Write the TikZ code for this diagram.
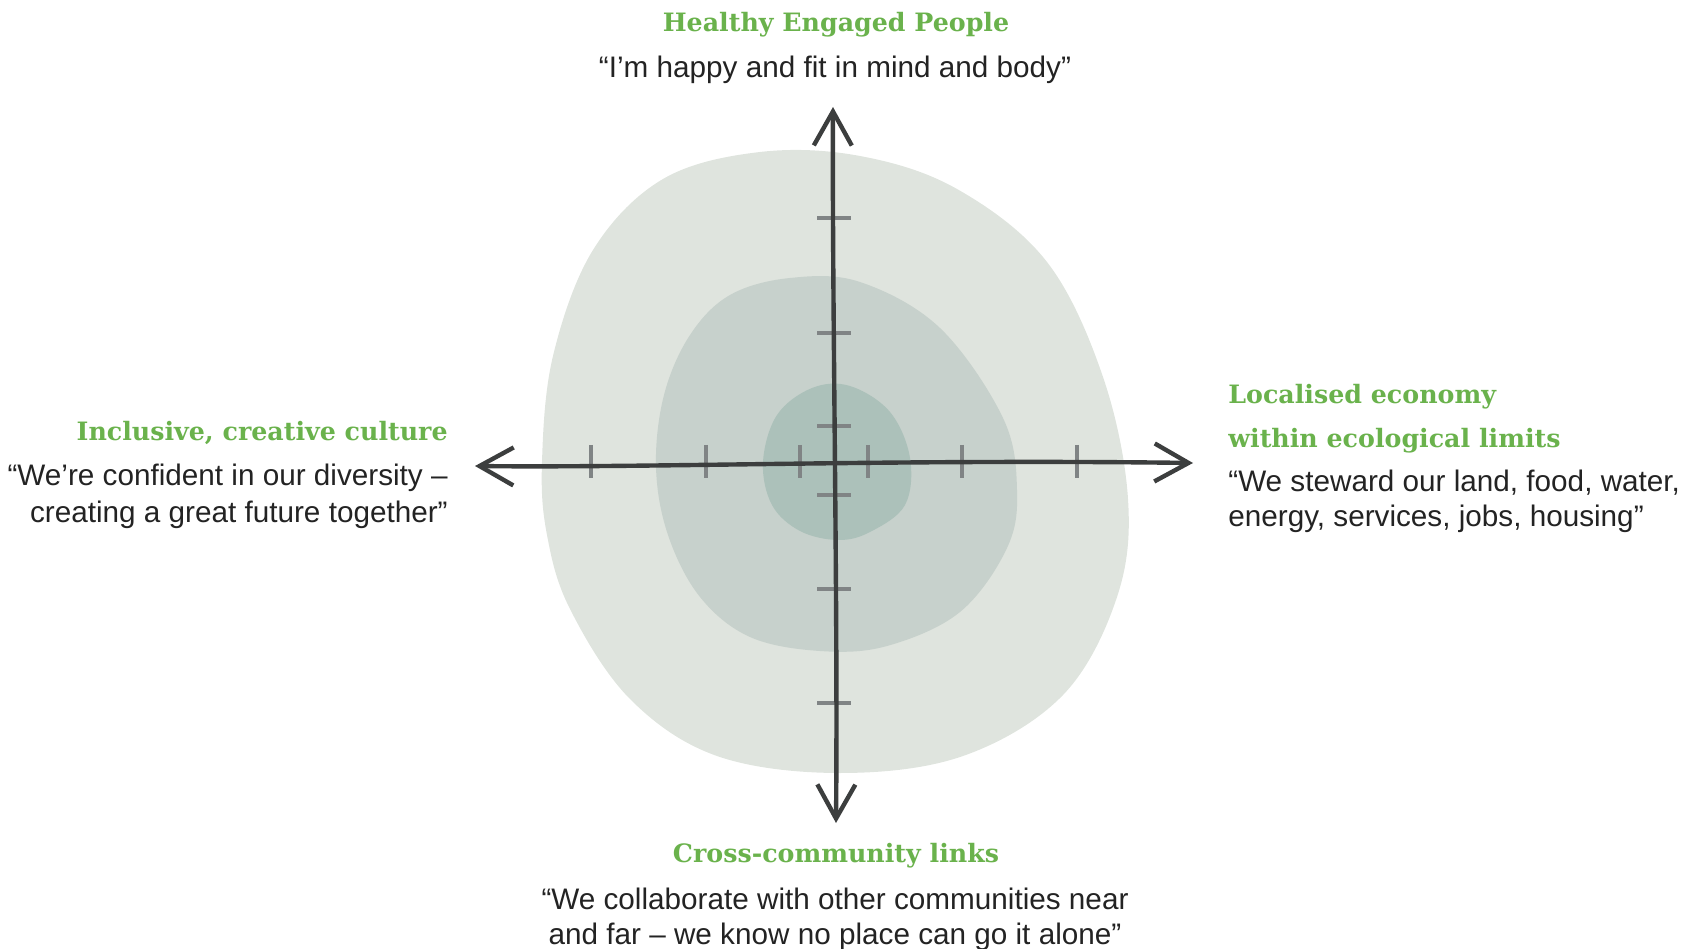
\documentclass[tikz,border=0pt]{standalone}
\usepackage{fontspec}
\setmainfont{Liberation Sans}
\newfontfamily\headfont{DejaVu Serif}
\usetikzlibrary{arrows.meta}

\definecolor{headgreen}{RGB}{106,178,76}
\definecolor{textgrey}{RGB}{35,35,35}
\definecolor{blobouter}{RGB}{223,228,222}
\definecolor{blobmid}{RGB}{199,209,204}
\definecolor{blobinner}{RGB}{172,193,186}
\definecolor{axisgrey}{RGB}{60,62,62}
\definecolor{tickgrey}{RGB}{128,132,133}

\tikzset{
    heading/.style={inner sep=0pt, text=headgreen, font=\headfont\bfseries\fontsize{14.4}{25}\selectfont},
    quote/.style={inner sep=0pt, text=textgrey, font=\fontsize{16.9}{20.8}\selectfont},
    axis/.style={draw=axisgrey, line width=2.5pt, line cap=round,
        {Straight Barb[length=6.8mm,width=7.6mm]}-{Straight Barb[length=6.8mm,width=7.6mm]}},
    tick/.style={draw=tickgrey, line width=1.9pt},
}

\begin{document}
\begin{tikzpicture}[x=0.02cm, y=-0.02cm]
    \useasboundingbox (0,0) rectangle (1684,949);

    % Blobs
    \fill[blobouter] plot[smooth cycle, tension=0.6] coordinates {
        (542,462) (553,356) (593,250) (663,179) (760,152) (860,156) (957,189)
        (1047,262) (1103,377) (1128,499) (1117,597) (1063,695) (963,756)
        (840,773) (717,756) (630,699) (570,609) (547,535)};
    \fill[blobmid] plot[smooth cycle, tension=0.6] coordinates {
        (656,467) (664,395) (690,335) (730,295) (790,278) (860,282) (940,328)
        (1003,418) (1017,490) (1007,548) (960,612) (887,646) (820,651)
        (750,637) (700,597) (668,535)};
    \fill[blobinner] plot[smooth cycle, tension=0.6] coordinates {
        (763,462) (777,415) (812,388) (850,386) (890,412) (910,458) (905,505)
        (870,532) (838,540) (800,531) (772,505)};

    % Ticks
    \foreach \x in {591,706,800,868,962,1077}
        \draw[tick] (\x,445) -- (\x,478);
    \foreach \y in {218,333,426,495,589,703}
        \draw[tick] (817,\y) -- (851,\y);

    % Axes
    \coordinate (top) at (833,107);
    \coordinate (bottom) at (836,823);
    \coordinate (left) at (475,466);
    \coordinate (right) at (1193,463);
    \draw[axis] (bottom) .. controls (838,600) and (832,300) .. (top);
    \draw[axis] (left) .. controls (650,468) and (900,459) .. (right);

    % Top
    \node[heading, anchor=base] (healthy) at (836,32) {Healthy Engaged People};
    \node[quote, anchor=base] (healthyq) at (835,78) {“I’m happy and fit in mind and body”};

    % Left
    \node[heading, anchor=base east] (culture) at (448,440) {Inclusive, creative culture};
    \node[quote, anchor=base east] (cultureq1) at (448,485) {“We’re confident in our diversity –};
    \node[quote, anchor=base east] (cultureq2) at (448,522) {creating a great future together”};

    % Right
    \node[heading, anchor=base west] (economy1) at (1228,404) {Localised economy};
    \node[heading, anchor=base west] (economy2) at (1228,448) {within ecological limits};
    \node[quote, anchor=base west] (economyq1) at (1228,491) {“We steward our land, food, water,};
    \node[quote, anchor=base west] (economyq2) at (1228,526) {energy, services, jobs, housing”};

    % Bottom
    \node[heading, anchor=base] (links) at (836,862) {Cross-community links};
    \node[quote, anchor=base] (linksq1) at (835,909) {“We collaborate with other communities near};
    \node[quote, anchor=base] (linksq2) at (835,944) {and far – we know no place can go it alone”};
\end{tikzpicture}
\end{document}
